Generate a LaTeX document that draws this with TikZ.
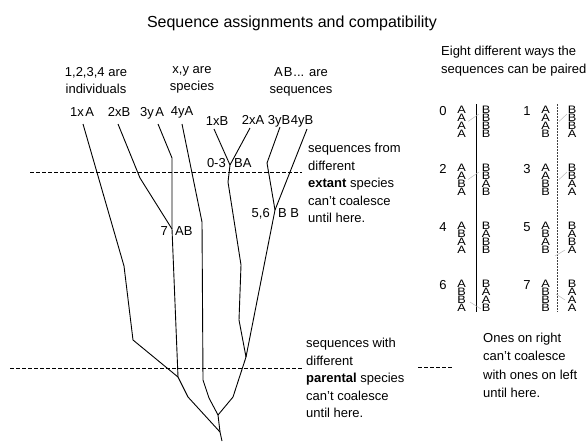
\documentclass[tikz,border=0pt]{standalone}
\usepackage{fontspec}
\setmainfont{Liberation Sans}
\newfontfamily\stackfont[FakeStretch=1.18]{Liberation Sans}
\begin{document}
\begin{tikzpicture}[x=1pt,y=-1pt,
  branch/.style={line width=0.9pt, line join=round},
  guide/.style={line width=0.8pt, dash pattern=on 4pt off 2pt},
  leaf/.style={font=\fontsize{13}{15}\selectfont, inner sep=0pt, anchor=base},
  note/.style={font=\fontsize{13}{17.5}\selectfont, align=left, inner sep=0pt, anchor=north west},
  head/.style={font=\fontsize{13}{17}\selectfont, align=center, inner sep=0pt, anchor=north},
  letter/.style={font=\stackfont\fontsize{10.8}{12}\selectfont, inner sep=0pt},
  gnum/.style={font=\fontsize{13}{15}\selectfont, inner sep=0pt},
  pairmark/.style={gray!55, line width=0.5pt}]
\useasboundingbox (0,0) rectangle (588,442);

% title
\node[font=\fontsize{16}{18}\selectfont, inner sep=0pt, anchor=base] (title) at (292,27)
  {Sequence assignments and compatibility};

% legend over the tree
\node[head] (hind) at (96,67) {1,2,3,4 are\\individuals};
\node[head] (hspe) at (192,66) {x,y are\\species};
\node[head] (hseq) at (301,67) {A\kern1pt B\kern1pt... are\\sequences};

% leaf labels
\node[leaf] (l1) at (82,116) {1x\kern1.5pt A};
\node[leaf] (l2) at (119,116) {2xB};
\node[leaf] (l3) at (152,116) {3y\kern1.5pt A};
\node[leaf] (l4) at (182,115) {4yA};
\node[leaf] (l5) at (217,125.5) {1xB};
\node[leaf] (l6) at (253,124) {2xA};
\node[leaf] (l7) at (279,124) {3yB};
\node[leaf] (l8) at (302,124) {4yB};

% tree vertices
\coordinate (a0) at (83,124);
\coordinate (a1) at (124,266);
\coordinate (a2) at (133,340);
\coordinate (b0) at (118,124);
\coordinate (b1) at (140,178);
\coordinate (c0) at (158,124);
\coordinate (c1) at (172,158);
\coordinate (n7) at (172,229);
\coordinate (d0) at (182,124);
\coordinate (d1) at (202,222);
\coordinate (d2) at (203,380);
\coordinate (d3) at (209,398);
\coordinate (e0) at (214,129);
\coordinate (f0) at (250,128);
\coordinate (n03) at (230,165);
\coordinate (g1) at (228,182);
\coordinate (g2) at (241,265);
\coordinate (g3) at (239,320);
\coordinate (h0) at (280,127);
\coordinate (h1) at (267,163);
\coordinate (i0) at (307,129);
\coordinate (n56) at (275,210);
\coordinate (n2) at (246,357);
\coordinate (m1) at (233,397);
\coordinate (n1) at (178,377);
\coordinate (k1) at (188,397);
\coordinate (n3) at (218,415);
\coordinate (root) at (220,432);
\coordinate (stem) at (222,441);

% gene tree
\draw[branch] (a0) -- (a1) -- (a2) -- (n1);
\draw[branch] (b0) -- (b1) -- (n7);
\draw[branch] (c0) -- (c1) -- (n7) -- (n1);
\draw[branch] (d0) -- (d1) -- (d2) -- (d3) -- (n3);
\draw[branch] (e0) -- (n03);
\draw[branch] (f0) -- (n03);
\draw[branch] (n03) -- (g1) -- (g2) -- (g3) -- (n2);
\draw[branch] (h0) -- (h1) -- (n56);
\draw[branch] (i0) -- (n56);
\draw[branch] (n56) -- (n2);
\draw[branch] (n2) -- (m1) -- (n3);
\draw[branch] (n1) -- (k1) -- (root);
\draw[branch] (n3) -- (root) -- (stem);

% coalescence labels
\node[leaf, anchor=base east] (t03) at (226,167) {0-3};
\node[leaf, anchor=base west] (s03) at (234,167) {BA};
\node[leaf, anchor=base east] (t7) at (168,235) {7};
\node[leaf, anchor=base west] (s7) at (175,235) {AB};
\node[leaf, anchor=base east] (t56) at (270,217) {5,6};
\node[leaf, anchor=base west] (s56) at (278,217) {B B};

% time limits
\coordinate (u0) at (30,172);
\coordinate (u1) at (302,172);
\coordinate (v0) at (10,368);
\coordinate (v1) at (302,368);
\coordinate (w0) at (418,367);
\coordinate (w1) at (453,367);
\draw[guide] (u0) -- (u1);
\draw[guide] (v0) -- (v1);
\draw[guide] (w0) -- (w1);

\node[note] (extant) at (308,143)
  {sequences from\\different\\\textbf{extant} species\\can't coalesce\\until here.};
\node[note] (parent) at (306,338)
  {sequences with\\different\\\textbf{parental} species\\can't coalesce\\until here.};
\node[note, font=\fontsize{13}{18.3}\selectfont] (ones) at (483,333)
  {Ones on right\\can't coalesce\\with ones on left\\until here.};
\node[note, font=\fontsize{13}{18}\selectfont] (eight) at (441,46)
  {Eight different ways the\\sequences can be paired};

% the eight pairings
\foreach \g/\col/\row/\L/\R in {
  0/0/0/{A,A,A,A}/{B,B,B,B}, 1/1/0/{A,A,A,B}/{B,B,B,A},
  2/0/1/{A,A,B,A}/{B,B,A,B}, 3/1/1/{A,A,B,B}/{B,B,A,A},
  4/0/2/{A,B,A,A}/{B,A,B,B}, 5/1/2/{A,B,A,B}/{B,A,B,A},
  6/0/3/{A,B,B,A}/{B,A,A,B}, 7/1/3/{A,B,B,B}/{B,A,A,A}} {
  \pgfmathsetmacro{\gx}{443+84*\col}
  \pgfmathsetmacro{\gy}{110+58*\row}
  \node[gnum] (num\g) at (\gx,\gy+1) {\g};
  \foreach \c [count=\i] in \L
    \node[letter] (g\g l\i) at (\gx+18.5,\gy+7.8*\i-7.8) {\c};
  \foreach \c [count=\i] in \R
    \node[letter] (g\g r\i) at (\gx+43+\col*2,\gy+7.8*\i-7.8) {\c};
}

% separators between the two sides
\coordinate (sa0) at (476,104);
\coordinate (sa1) at (476,312);
\coordinate (sb0) at (557.5,104);
\coordinate (sb1) at (557.5,312);
\draw[line width=0.9pt] (sa0) -- (sa1);
\draw[black!75, line width=0.9pt, dash pattern=on 2pt off 1pt] (sb0) -- (sb1);

% faint pairing marks
\draw[pairmark] (468,121.5) -- (479,114);
\draw[pairmark] (559,121.5) -- (567,114);
\draw[pairmark] (468,179.5) -- (479,172);
\draw[pairmark] (559,179.5) -- (567,172);
\draw[pairmark] (555,256) -- (565,250);
\draw[pairmark] (470,302) -- (481,309);
\draw[pairmark] (556,294) -- (565,300);
\end{tikzpicture}
\end{document}
